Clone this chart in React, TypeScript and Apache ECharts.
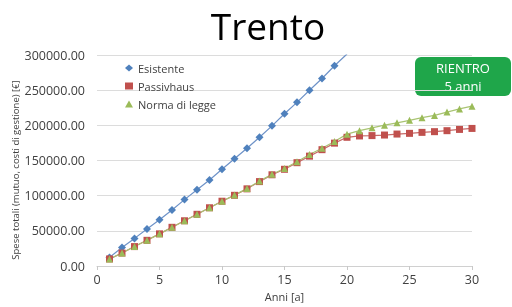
import React, { useEffect, useRef } from "react";
import * as echarts from "echarts";

const years = [1, 2, 3, 4, 5, 6, 7, 8, 9, 10, 11, 12, 13, 14, 15, 16, 17, 18, 19, 20, 21, 22, 23, 24, 25, 26, 27, 28, 29, 30];
const esistente = [12250, 26170, 39250, 52600, 65700, 79600, 94400, 108300, 122200, 137500, 152400, 167500, 183000, 199300, 216400, 232700, 249900, 266600, 284700, 301500];
const passivhaus = [10000, 18400, 27600, 36500, 45700, 55000, 64300, 73500, 82800, 92100, 100500, 109700, 120000, 129700, 137500, 146900, 156200, 165400, 174700, 183000, 184900, 185400, 186200, 187600, 188600, 190000, 191000, 192400, 194200, 195600];
const normaDiLegge = [10000, 18400, 27600, 36500, 45700, 55000, 64300, 73500, 82800, 92100, 100800, 110200, 120700, 130500, 138600, 148300, 158600, 167300, 177000, 187500, 192400, 196500, 200200, 203500, 207100, 210900, 214100, 218800, 223400, 227200];
const seriesNames = ["Esistente", "Passivhaus", "Norma di legge"];
const titleText = "Trento";
const xAxisName = "Anni [a]";
const yAxisName = "Spese totali (mutuo, costi di gestione) [€]";
const badgeLines = ["RIENTRO", "5 anni"];

const FONT = "'Open Sans', sans-serif";

function pairs(vals: number[]) {
  return vals.map((v, i) => [years[i], v]);
}

export default function App() {
  const ref = useRef<HTMLDivElement>(null);
  useEffect(() => {
    if (!ref.current) return;
    const chart = echarts.init(ref.current, undefined, { renderer: "svg" });
    const colors = ["#4F81BD", "#C0504D", "#9BBB59"];
    chart.setOption({
      animation: false,
      textStyle: { fontFamily: FONT },
      grid: { left: 97, right: 40, top: 55, bottom: 36.5, containLabel: false },
      title: {
        text: titleText,
        left: 263,
        textAlign: "center",
        top: 2,
        textStyle: { fontFamily: FONT, fontSize: 37, fontWeight: "normal", color: "#000" },
      },
      legend: {
        orient: "vertical",
        left: 120,
        top: 57,
        itemWidth: 8,
        itemHeight: 7,
        itemGap: 6,
        textStyle: { fontFamily: FONT, fontSize: 11, color: "#404040", lineHeight: 12 },
        data: [
          { name: seriesNames[0], icon: "diamond" },
          { name: seriesNames[1], icon: "rect" },
          { name: seriesNames[2], icon: "triangle" },
        ],
      },
      xAxis: {
        type: "value",
        min: 0,
        max: 30,
        interval: 5,
        name: xAxisName,
        nameLocation: "middle",
        nameGap: 25,
        nameTextStyle: { fontFamily: FONT, fontSize: 11, color: "#404040" },
        axisLine: { lineStyle: { color: "#d0d0d0" } },
        axisTick: { show: true, length: 4, lineStyle: { color: "#c8c8c8" } },
        axisLabel: { fontFamily: FONT, fontSize: 12.5, color: "#404040", margin: 7 },
        splitLine: { show: false },
      },
      yAxis: {
        type: "value",
        min: 0,
        max: 300000,
        interval: 50000,
        axisLine: { show: false },
        axisTick: { show: false },
        axisLabel: {
          fontFamily: FONT,
          fontSize: 12.5,
          color: "#404040",
          margin: 12,
          formatter: (v: number) => v.toFixed(2),
        },
        splitLine: { lineStyle: { color: "#dcdcdc", width: 1 } },
      },
      series: [
        {
          name: seriesNames[0],
          type: "line",
          data: pairs(esistente),
          symbol: "diamond",
          symbolSize: 8,
          clip: true,
          itemStyle: { color: colors[0] },
          lineStyle: { color: "#6f93c8", width: 1.2 },
        },
        {
          name: seriesNames[1],
          type: "line",
          data: pairs(passivhaus),
          symbol: "rect",
          symbolSize: 7,
          clip: true,
          itemStyle: { color: colors[1] },
          lineStyle: { color: "#c76a68", width: 1.2 },
        },
        {
          name: seriesNames[2],
          type: "line",
          data: pairs(normaDiLegge),
          symbol: "triangle",
          symbolSize: 7,
          clip: true,
          itemStyle: { color: colors[2] },
          lineStyle: { color: "#a9c473", width: 1.2 },
        },
      ],
      graphic: [
        {
          type: "text",
          x: 15,
          y: 170,
          rotation: Math.PI / 2,
          style: {
            text: yAxisName,
            fontFamily: FONT,
            fontSize: 9.5,
            fill: "#404040",
            align: "center",
            verticalAlign: "middle",
          },
        },
        {
          type: "rect",
          shape: { x: 415, y: 57, width: 96, height: 39, r: 6 },
          style: { fill: "#1fa64a" },
        },
        {
          type: "text",
          x: 463,
          y: 67.5,
          style: {
            text: badgeLines[0],
            fontFamily: FONT,
            fontSize: 13,
            fill: "#ffffff",
            align: "center",
            verticalAlign: "middle",
          },
        },
        {
          type: "text",
          x: 463,
          y: 86,
          style: {
            text: badgeLines[1],
            fontFamily: FONT,
            fontSize: 13,
            fill: "#ffffff",
            align: "center",
            verticalAlign: "middle",
          },
        },
      ],
    });
    return () => chart.dispose();
  }, []);
  return (
    <div
      ref={ref}
      style={{ position: "fixed", left: 0, top: 0, width: 512, height: 307 }}
    />
  );
}
